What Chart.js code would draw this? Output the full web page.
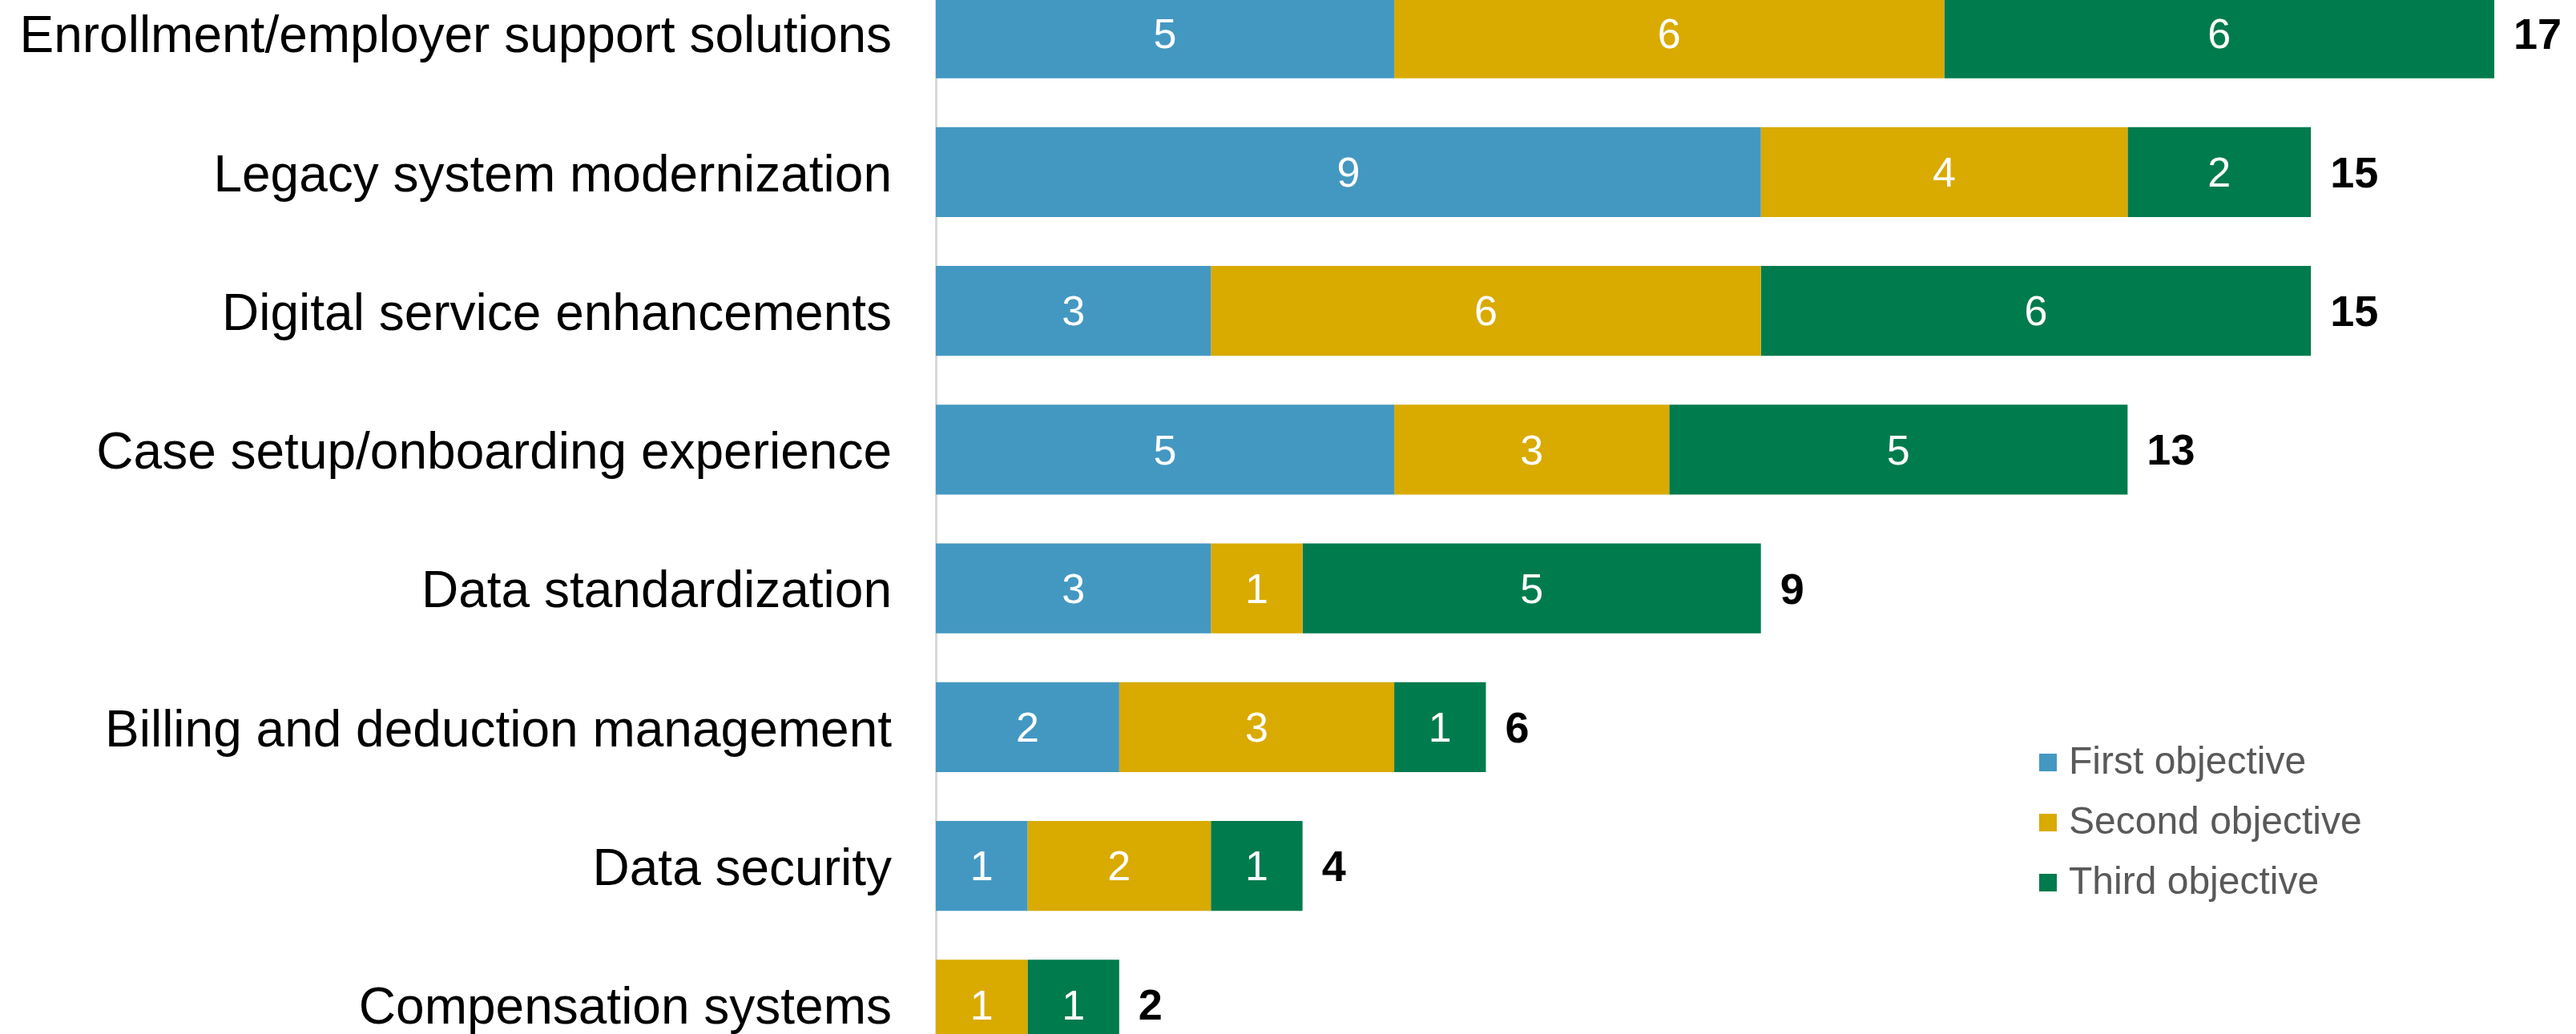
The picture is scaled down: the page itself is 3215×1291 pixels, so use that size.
<!DOCTYPE html>
<html>
<head>
<meta charset="utf-8">
<script src="https://cdn.jsdelivr.net/npm/chart.js@4/dist/chart.umd.min.js"></script>
<style>
  html, body { margin: 0; padding: 0; background: #ffffff; overflow: hidden; width: 3215px; height: 1291px; }
  #wrap { position: absolute; left: 0; top: -45px; width: 3215px; height: 1386px; }
</style>
</head>
<body>
<div id="wrap"><canvas id="c"></canvas></div>
<script>
// ---- data ----
const categories = [
  "Enrollment/employer support solutions",
  "Legacy system modernization",
  "Digital service enhancements",
  "Case setup/onboarding experience",
  "Data standardization",
  "Billing and deduction management",
  "Data security",
  "Compensation systems"
];
const seriesNames = ["First objective", "Second objective", "Third objective"];
const firstObjective  = [5, 9, 3, 5, 3, 2, 1, null];
const secondObjective = [6, 4, 6, 3, 1, 3, 2, 1];
const thirdObjective  = [6, 2, 6, 5, 5, 1, 1, 1];
const seriesColors = ["#4398C2", "#D9AA00", "#007B4E"];

const FONT = "'Liberation Sans', Arial, Helvetica, sans-serif";

const labelsPlugin = {
  id: 'labelsPlugin',
  afterDatasetsDraw(chart) {
    const ctx = chart.ctx;
    const xs = chart.scales.x;
    ctx.save();
    // segment labels
    ctx.font = "52px " + FONT;
    ctx.fillStyle = "#ffffff";
    ctx.textAlign = "center";
    ctx.textBaseline = "middle";
    chart.data.datasets.forEach((ds, di) => {
      const meta = chart.getDatasetMeta(di);
      meta.data.forEach((el, i) => {
        const v = ds.data[i];
        if (v === null || v === undefined || v === 0) return;
        ctx.fillText(String(v), (el.x + el.base) / 2, el.y + 4);
      });
    });
    // totals
    ctx.font = "bold 54px " + FONT;
    ctx.fillStyle = "#000000";
    ctx.textAlign = "left";
    const meta0 = chart.getDatasetMeta(1);
    categories.forEach((c, i) => {
      let t = 0;
      chart.data.datasets.forEach(ds => { t += (ds.data[i] || 0); });
      const y = meta0.data[i].y;
      ctx.fillText(String(t), xs.getPixelForValue(t) + 24, y + 4);
    });
    ctx.restore();
  },
  afterDraw(chart) {
    const ctx = chart.ctx;
    ctx.save();
    ctx.font = "48px " + FONT;
    ctx.textAlign = "left";
    ctx.textBaseline = "middle";
    const x0 = 2545, y0 = 997, step = 75, sq = 22;
    chart.data.datasets.forEach((ds, i) => {
      const y = y0 + i * step;
      ctx.fillStyle = ds.backgroundColor;
      ctx.fillRect(x0, y - sq / 2, sq, sq);
      ctx.fillStyle = "#595959";
      ctx.fillText(ds.label, x0 + 37, y + 1);
    });
    ctx.restore();
  }
};

new Chart(document.getElementById('c'), {
  type: 'bar',
  data: {
    labels: categories,
    datasets: [
      { label: seriesNames[0], data: firstObjective,  backgroundColor: seriesColors[0] },
      { label: seriesNames[1], data: secondObjective, backgroundColor: seriesColors[1] },
      { label: seriesNames[2], data: thirdObjective,  backgroundColor: seriesColors[2] }
    ]
  },
  options: {
    indexAxis: 'y',
    responsive: true,
    maintainAspectRatio: false,
    animation: false,
    datasets: { bar: { barPercentage: 0.647, categoryPercentage: 1.0, borderWidth: 0 } },
    layout: { padding: { left: 0, right: 102, top: 0, bottom: 0 } },
    plugins: { legend: { display: false }, tooltip: { enabled: false } },
    scales: {
      x: { stacked: true, min: 0, max: 17, display: false },
      y: {
        stacked: true,
        grid: { display: false, drawTicks: false, tickLength: 0 },
        border: { display: true, color: "#D9D9D9", width: 3 },
        ticks: { autoSkip: false, color: "#000000", padding: 55, labelOffset: 6, font: { family: FONT, size: 64 } },
        afterFit(scale) { scale.width = 1168; scale.paddingTop = 0; scale.paddingBottom = 0; }
      }
    }
  },
  plugins: [labelsPlugin]
});
</script>
</body>
</html>
